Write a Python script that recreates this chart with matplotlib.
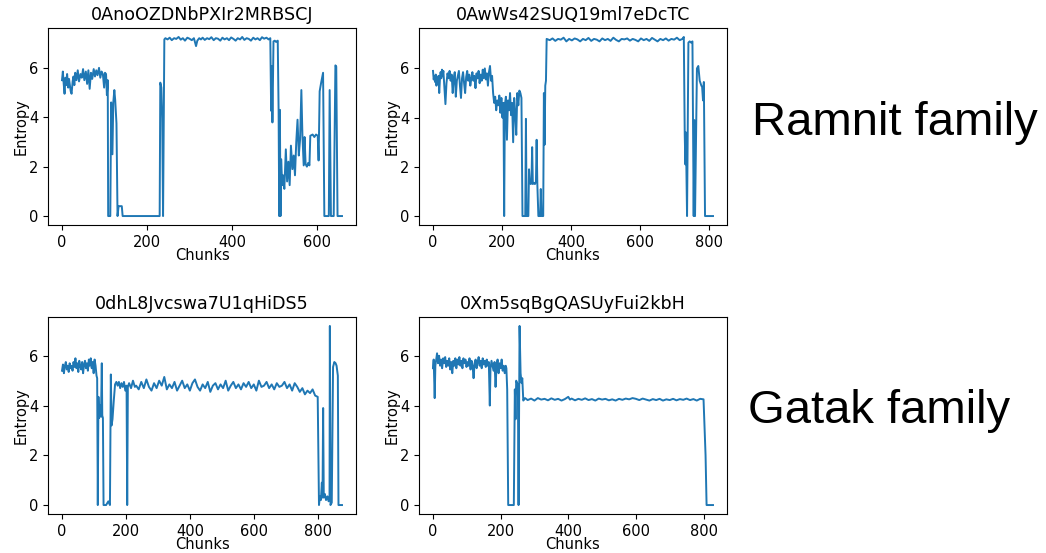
import matplotlib

matplotlib.use("Agg")
import matplotlib.pyplot as plt

# values, chunk index -> entropy
ramnit1_x = [
    0, 2, 4, 6, 8, 10, 12, 14.5, 16.5, 18.5,
    20.5, 22.5, 25, 27, 29, 31, 34, 37, 40, 43.5,
    46.5, 49.5, 52.5, 56, 59, 62, 65, 68, 71, 74.5,
    77.5, 80.5, 83.5, 87, 90, 93, 96, 99, 101, 103.5,
    105.5, 107.5, 108.5, 113.5, 115.5, 118.5, 120.5, 123, 125, 128,
    130.5, 133, 140.5, 142.5, 229.5, 231, 233.5, 235.5, 237.5, 240.5,
    243, 248, 253, 258, 263.5, 268.5, 274, 279, 284, 289,
    294.5, 299.5, 305, 310, 315, 318, 322.5, 326.5, 330.5, 335.5,
    341, 346, 351, 356.5, 361.5, 366.5, 372, 377, 382, 387.5,
    392.5, 397.5, 403, 408, 413, 418.5, 423.5, 428.5, 434, 439,
    444, 449.5, 454.5, 459.5, 465, 470, 475, 480.5, 485.5, 489.5,
    491.5, 493, 494.5, 497, 500, 503, 507, 509, 510.5, 512,
    513.5, 515, 517.5, 519.5, 522.5, 526, 529, 532, 535, 538,
    541.5, 544.5, 547.5, 550.5, 553.5, 556.5, 559.5, 562.5, 565, 568,
    570, 572.5, 575.5, 578.5, 581.5, 583.5, 589, 593, 597, 601,
    603, 605.5, 609, 613.5, 616.5, 627, 629, 632, 638.5, 642.5,
    644.5, 647.5, 658,
]
ramnit1_y = [
    5.5, 5.85, 5.35, 4.95, 5.6, 5.3, 5.75, 5.2, 5.55, 5.3,
    5.05, 4.95, 5.45, 5.65, 5.3, 5.8, 5.5, 5.9, 5.45, 5.75,
    5.6, 5.95, 5.5, 5.85, 5.35, 5.9, 5.15, 5.8, 5.55, 5.95,
    5.65, 5.9, 5.7, 6.0, 5.6, 5.85, 5.75, 5.2, 5.8, 5.75,
    4.9, 5.5, 0, 0, 4.6, 2.5, 4.6, 5.1, 4.7, 3.75,
    0, 0.4, 0.4, 0, 0, 5.4, 5.2, 3.95, 0, 7.15,
    7.2, 7.15, 7.22, 7.12, 7.2, 7.17, 7.25, 7.14, 7.2, 7.1,
    7.22, 7.18, 7.12, 7.2, 6.88, 7.1, 7.2, 7.15, 7.22, 7.13,
    7.2, 7.16, 7.24, 7.12, 7.2, 7.18, 7.1, 7.22, 7.15, 7.2,
    7.12, 7.23, 7.17, 7.1, 7.2, 7.15, 7.25, 7.13, 7.2, 7.17,
    7.1, 7.22, 7.15, 7.2, 7.12, 7.24, 7.18, 7.22, 7.15, 7.2,
    4.26, 6.06, 3.79, 7.07, 7.1, 7.05, 7.1, 4.3, 0, 4.3,
    0, 2.3, 1.25, 1.65, 1.1, 2.7, 1.4, 2.2, 1.25, 2.85,
    1.9, 2.45, 1.65, 3.0, 3.9, 2.45, 3.1, 5.1, 3.25, 2.05,
    3.2, 2.1, 2.0, 2.15, 2.05, 3.25, 3.3, 3.2, 3.3, 3.25,
    2.25, 5.05, 5.4, 5.8, 0, 0, 5.1, 0, 0, 6.1,
    6.05, 0, 0,
]

ramnit2_x = [
    0, 2, 4, 6, 8, 10, 12, 14, 16, 18,
    20, 22, 24, 26, 28, 30, 33, 36, 39, 42,
    45, 48, 51, 54, 57, 60, 63, 66, 69, 72,
    75, 78, 81, 84, 87, 90, 93, 96, 99, 102,
    105, 108, 111, 114, 117, 120, 123, 126, 129, 132,
    135, 138, 141, 144, 147, 150, 153, 156, 159, 162,
    165, 168, 171, 174, 177, 180, 183, 186, 189, 192,
    195, 198, 201, 204, 206, 208, 211, 214, 217, 220,
    223, 226, 229, 232, 235, 238, 241, 244, 247, 250,
    253, 256, 259, 267, 269, 271, 276, 278, 280, 283,
    285, 287, 289, 292, 295, 298, 300, 302, 305, 310,
    312, 314, 319, 321, 323, 325, 327, 329, 338, 346,
    354, 362, 370, 378, 386, 394, 402, 410, 418, 426,
    434, 442, 450, 458, 466, 474, 482, 490, 498, 506,
    514, 522, 530, 538, 546, 554, 562, 570, 578, 586,
    594, 602, 610, 618, 626, 634, 642, 650, 658, 666,
    674, 682, 690, 698, 706, 714, 722, 726, 728.7, 730.5,
    732, 733.5, 735.4, 739.3, 743, 747, 751, 754.6, 756.6, 758.5,
    764, 768, 772, 776.8, 779, 781.6, 784, 787.4, 810.5,
]
ramnit2_y = [
    5.9, 5.55, 5.7, 5.45, 5.75, 5.3, 5.6, 5.5, 5.7, 5.0,
    5.55, 5.85, 5.6, 5.95, 5.7, 5.9, 5.2, 4.55, 5.4, 5.8,
    5.6, 5.9, 5.5, 5.75, 5.0, 5.6, 5.85, 4.85, 5.5, 5.7,
    5.9, 5.3, 4.8, 5.6, 5.85, 5.4, 5.0, 5.65, 5.9, 5.5,
    5.75, 5.3, 5.6, 5.85, 5.5, 5.7, 5.2, 5.8, 5.6, 5.9,
    5.4, 5.75, 5.5, 5.95, 5.6, 6.0, 5.55, 5.8, 5.3, 5.85,
    6.1, 5.5, 5.7, 5.0, 4.6, 4.85, 4.3, 4.7, 4.5, 4.9,
    4.2, 4.8, 4.0, 4.6, 0, 4.5, 4.85, 3.1, 4.7, 4.3,
    5.0, 4.1, 4.6, 3.0, 4.8, 4.2, 3.3, 5.0, 4.5, 5.1,
    5.0, 4.8, 0, 0, 3.95, 0, 0, 1.9, 1.4, 1.3,
    1.35, 2.8, 1.3, 1.35, 1.3, 1.4, 3.1, 1.3, 0, 0,
    1.1, 0, 0, 5.0, 2.9, 5.3, 5.5, 7.2, 7.15, 7.22,
    7.12, 7.2, 7.17, 7.25, 7.1, 7.2, 7.14, 7.22, 7.18, 7.1,
    7.2, 7.15, 7.24, 7.12, 7.2, 7.17, 7.1, 7.22, 7.15, 7.2,
    7.12, 7.25, 7.16, 7.1, 7.2, 7.18, 7.22, 7.13, 7.2, 7.16,
    7.1, 7.22, 7.15, 7.2, 7.12, 7.24, 7.17, 7.1, 7.2, 7.15,
    7.22, 7.13, 7.2, 7.17, 7.25, 7.15, 7.2, 7.28, 3.3, 2.1,
    3.4, 2.0, 0, 7.05, 7.1, 7.05, 7.1, 0, 3.9, 0,
    6.0, 6.1, 5.5, 5.3, 5.25, 4.7, 5.45, 0, 0,
]

gatak1_x = [
    0, 3, 6, 9, 12, 15, 18, 21, 24, 27,
    30, 33, 36, 39, 42, 45, 48, 51, 54, 57,
    60, 63, 66, 69, 72, 75, 78, 81, 84, 87,
    90, 93, 96, 99, 102, 105, 108, 110, 112, 114,
    116, 119, 122, 124.5, 126, 128, 130, 138, 145, 150,
    152.8, 155, 158, 162, 166, 170, 174, 178, 182, 186,
    190, 194, 198, 202, 204, 206, 210, 216, 222, 228,
    232, 240, 248, 256, 264, 272, 280, 288, 296, 304,
    312, 320, 328, 336, 344, 352, 360, 368, 376, 384,
    392, 400, 408, 416, 424, 432, 440, 448, 456, 464,
    472, 480, 488, 496, 504, 512, 520, 528, 536, 544,
    552, 560, 568, 576, 584, 592, 600, 608, 616, 624,
    632, 640, 648, 656, 664, 672, 680, 688, 696, 704,
    712, 720, 728, 736, 744, 752, 760, 768, 776, 784,
    792, 800, 804, 807, 810, 813, 815, 817, 819, 822,
    826, 830, 834, 837, 838, 840, 844, 848, 852, 856,
    859, 863, 865, 876,
]
gatak1_y = [
    5.4, 5.65, 5.3, 5.6, 5.75, 5.45, 5.6, 5.35, 5.7, 5.5,
    5.6, 5.4, 5.75, 5.55, 5.9, 5.5, 5.7, 5.35, 5.8, 5.6,
    5.45, 5.75, 5.3, 5.65, 5.8, 5.5, 5.7, 5.4, 5.85, 5.6,
    5.9, 5.5, 5.75, 5.3, 5.85, 5.6, 5.2, 5.1, 0, 4.35,
    3.5, 4.0, 3.55, 5.7, 3.6, 3.5, 0, 0, 0.15, 0,
    5.25, 3.2, 3.45, 4.2, 4.85, 4.95, 4.8, 4.95, 4.7, 4.9,
    4.75, 4.95, 4.6, 4.8, 0, 4.75, 4.9, 4.7, 5.0, 4.75,
    4.8, 4.65, 4.95, 4.7, 5.05, 4.75, 4.6, 4.9, 4.7, 5.0,
    4.8, 5.15, 4.65, 4.85, 4.7, 4.95, 4.6, 4.8, 5.0, 4.7,
    4.85, 4.6, 4.9, 5.05, 4.75, 4.6, 4.85, 4.7, 4.95, 4.55,
    4.8, 4.9, 4.65, 4.85, 4.7, 5.0, 4.6, 4.8, 4.95, 4.7,
    4.85, 4.65, 4.9, 4.75, 4.95, 4.7, 4.85, 4.6, 5.0, 4.75,
    4.8, 4.95, 4.7, 4.85, 4.65, 4.9, 4.75, 4.8, 4.95, 4.7,
    4.85, 4.6, 4.9, 4.75, 4.55, 4.7, 4.45, 4.6, 4.5, 4.65,
    4.4, 4.35, 0, 0.35, 0.2, 0.9, 0.3, 3.9, 0.3, 0.45,
    0.2, 0.35, 0.15, 0.4, 7.2, 0, 0.1, 5.55, 5.75, 5.7,
    5.6, 5.2, 0, 0,
]

gatak2_x = [
    0, 2, 5, 7, 10, 12, 15, 18, 21, 24,
    27, 30, 33, 36, 39, 42, 45, 48, 51, 54,
    57, 60, 63, 66, 69, 72, 75, 78, 81, 84,
    87, 90, 93, 96, 99, 102, 105, 108, 111, 114,
    117, 120, 123, 126, 129, 132, 135, 138, 141, 144,
    147, 150, 153, 156, 159, 162, 165, 168, 170, 173,
    176, 179, 182, 185, 188, 191, 194, 197, 200, 203,
    206, 209, 212, 215, 217, 219.4, 222.4, 239, 242, 244,
    246, 249, 251, 253, 256, 259, 262, 264, 267, 272,
    280, 290, 300, 310, 320, 330, 340, 350, 360, 370,
    380, 390, 400, 405, 410, 420, 430, 440, 450, 460,
    470, 480, 490, 500, 510, 520, 530, 540, 550, 560,
    570, 580, 590, 600, 610, 620, 630, 640, 650, 660,
    670, 680, 690, 700, 710, 720, 730, 740, 750, 760,
    770, 780, 790, 800, 806, 809, 828,
]
gatak2_y = [
    5.5, 5.85, 4.3, 5.6, 5.9, 6.1, 5.7, 6.0, 5.6, 5.85,
    5.5, 5.9, 5.7, 5.95, 5.55, 5.8, 5.6, 5.9, 5.45, 5.75,
    5.3, 5.8, 5.6, 5.9, 5.5, 5.85, 5.65, 5.95, 5.6, 5.8,
    5.5, 5.9, 5.7, 5.85, 5.55, 5.75, 5.6, 5.9, 5.45, 5.8,
    5.6, 5.1, 5.7, 5.85, 5.5, 5.75, 5.95, 5.6, 5.8, 5.5,
    5.9, 5.65, 5.8, 5.55, 5.85, 5.6, 5.75, 4.0, 5.5, 5.8,
    5.6, 5.4, 5.75, 4.75, 5.6, 5.85, 5.3, 5.7, 5.5, 5.85,
    5.4, 5.6, 5.3, 5.6, 5.5, 4.65, 0, 0, 4.65, 3.45,
    5.0, 4.9, 4.8, 0, 7.2, 5.3, 4.9, 5.1, 4.2, 4.3,
    4.22, 4.28, 4.2, 4.3, 4.24, 4.27, 4.21, 4.29, 4.23, 4.27,
    4.2, 4.26, 4.35, 4.24, 4.28, 4.21, 4.27, 4.23, 4.29, 4.22,
    4.26, 4.2, 4.28, 4.24, 4.27, 4.21, 4.25, 4.2, 4.27, 4.23,
    4.28, 4.25, 4.3, 4.27, 4.22, 4.28, 4.24, 4.2, 4.26, 4.22,
    4.27, 4.2, 4.25, 4.22, 4.27, 4.21, 4.26, 4.23, 4.28, 4.22,
    4.26, 4.2, 4.27, 4.25, 2.0, 0, 0,
]

titles = [
    "0AnoOZDNbPXIr2MRBSCJ",
    "0AwWs42SUQ19ml7eDcTC",
    "0dhL8Jvcswa7U1qHiDS5",
    "0Xm5sqBgQASUyFui2kbH",
]
family_labels = ["Ramnit family", "Gatak family"]

W, H = 1046, 553
plt.rcParams["font.size"] = 10.5

fig = plt.figure(figsize=(W / 100, H / 100), dpi=100)

# axes boxes in pixels: left, top (all 308 x 197)
boxes = [(48, 28), (419, 28), (48, 317), (419, 317)]
series = [
    (ramnit1_x, ramnit1_y),
    (ramnit2_x, ramnit2_y),
    (gatak1_x, gatak1_y),
    (gatak2_x, gatak2_y),
]
for (left, top), (xs, ys), title in zip(boxes, series, titles):
    ax = fig.add_axes([left / W, 1 - (top + 197) / H, 308 / W, 197 / H])
    ax.plot(xs, ys, color="#1f77b4", lw=1.4)
    ax.set_title(title)
    ax.set_xlabel("Chunks", labelpad=-1)
    ax.set_ylabel("Entropy", labelpad=0)

fig.text(752 / W, 1 - 135 / H, family_labels[0], fontsize=34,
         family="Liberation Sans", ha="left", va="baseline")
fig.text(748 / W, 1 - 423 / H, family_labels[1], fontsize=34,
         family="Liberation Sans", ha="left", va="baseline")

fig.savefig("out.png", dpi=100)
